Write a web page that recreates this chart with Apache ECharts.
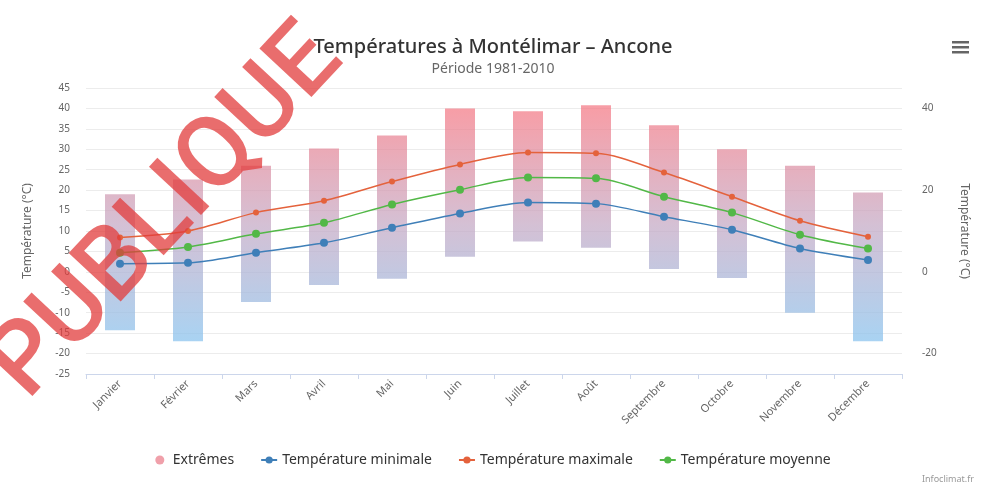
<!DOCTYPE html>
<html>
<head>
<meta charset="utf-8">
<script src="https://cdn.jsdelivr.net/npm/echarts@6/dist/echarts.min.js"></script>
<style>
  html, body { margin: 0; padding: 0; background: #fff; }
  #chart { width: 986px; height: 489px; }
</style>
</head>
<body>
<div id="chart"></div>
<script>
const months = ["Janvier", "Février", "Mars", "Avril", "Mai", "Juin", "Juillet", "Août", "Septembre", "Octobre", "Novembre", "Décembre"];
const extMin = [-14.3, -17, -7.4, -3.2, -1.7, 3.7, 7.4, 5.9, 0.7, -1.5, -10, -17];
const extMax = [19, 22.6, 26, 30.2, 33.4, 40, 39.3, 40.8, 35.9, 30, 26, 19.4];
const tMin = [2, 2.2, 4.7, 7.1, 10.8, 14.3, 17, 16.7, 13.5, 10.3, 5.7, 2.9];
const tMax = [8.4, 10, 14.5, 17.4, 22.1, 26.3, 29.2, 29, 24.3, 18.4, 12.5, 8.6];
const tMoy = [4.7, 6.1, 9.3, 12, 16.5, 20.1, 23.1, 22.9, 18.4, 14.5, 9.1, 5.7];

const FONT = "'Noto Sans', 'DejaVu Sans', sans-serif";

const chart = echarts.init(document.getElementById("chart"));

// barre min/max, degrade rouge -> bleu selon la temperature
function renderRange(params, api) {
  const i = api.value(0);
  const lo = api.coord([i, api.value(1)]);
  const hi = api.coord([i, api.value(2)]);
  const yTop = api.coord([i, 40])[1];
  const yBot = api.coord([i, -17])[1];
  const w = 30;
  return {
    type: "rect",
    shape: { x: lo[0] - w / 2, y: hi[1], width: w, height: lo[1] - hi[1] },
    style: {
      fill: new echarts.graphic.LinearGradient(0, yTop, 0, yBot, [
        { offset: 0, color: "rgba(244,120,132,0.72)" },
        { offset: 0.5, color: "rgba(196,168,196,0.72)" },
        { offset: 1, color: "rgba(140,196,238,0.75)" }
      ], true)
    }
  };
}

const option = {
  animation: false,
  backgroundColor: "#fff",
  title: {
    text: "Températures à Montélimar – Ancone",
    subtext: "Période 1981-2010",
    left: "center",
    top: 32,
    itemGap: 5,
    textStyle: { fontFamily: FONT, fontSize: 20, fontWeight: 500, color: "#333" },
    subtextStyle: { fontFamily: FONT, fontSize: 14, color: "#666" }
  },
  legend: {
    bottom: 17,
    left: "center",
    itemGap: 26,
    itemWidth: 16,
    itemHeight: 9,
    textStyle: { fontFamily: FONT, fontSize: 14, color: "#333" },
    data: [
      { name: "Extrêmes", icon: "circle" },
      "Température minimale",
      "Température maximale",
      "Température moyenne"
    ]
  },
  grid: { left: 86, right: 84, top: 88, bottom: 115 },
  xAxis: {
    type: "category",
    data: months,
    boundaryGap: true,
    axisLine: { onZero: false, lineStyle: { color: "#ccd6eb" } },
    axisTick: { show: true, lineStyle: { color: "#ccd6eb" } },
    axisLabel: { rotate: 45, fontFamily: FONT, fontSize: 11, color: "#666", margin: 8 }
  },
  yAxis: [
    {
      type: "value",
      min: -25,
      max: 45,
      interval: 5,
      name: "Température (°C)",
      nameLocation: "middle",
      nameGap: 52,
      nameTextStyle: { fontFamily: FONT, fontSize: 12, color: "#666" },
      axisLine: { show: false },
      axisTick: { show: false },
      axisLabel: { fontFamily: FONT, fontSize: 10, color: "#666", margin: 16 },
      splitLine: { lineStyle: { color: "#ececec" } }
    },
    {
      type: "value",
      min: -25,
      max: 45,
      interval: 5,
      position: "right",
      name: "Température (°C)",
      nameLocation: "middle",
      nameRotate: -90,
      nameGap: 56,
      nameTextStyle: { fontFamily: FONT, fontSize: 12, color: "#666" },
      axisLine: { show: false },
      axisTick: { show: false },
      axisLabel: {
        fontFamily: FONT, fontSize: 10, color: "#666", margin: 20,
        formatter: v => (v % 20 === 0 ? String(v) : "")
      },
      splitLine: { show: false }
    }
  ],
  series: [
    {
      name: "Extrêmes",
      type: "custom",
      renderItem: renderRange,
      itemStyle: { color: "#f0a0aa" },
      encode: { x: 0, y: [1, 2] },
      data: months.map((m, i) => [i, extMin[i], extMax[i]]),
      z: 1
    },
    {
      name: "Température minimale",
      type: "line",
      smooth: 0.3,
      data: tMin,
      color: "#3f7fb8",
      symbol: "circle",
      symbolSize: 8,
      lineStyle: { width: 1.5 },
      z: 3
    },
    {
      name: "Température maximale",
      type: "line",
      smooth: 0.3,
      data: tMax,
      color: "#e4623c",
      symbol: "circle",
      symbolSize: 6,
      lineStyle: { width: 1.5 },
      z: 3
    },
    {
      name: "Température moyenne",
      type: "line",
      smooth: 0.3,
      data: tMoy,
      color: "#52b847",
      symbol: "circle",
      symbolSize: 8,
      lineStyle: { width: 1.5 },
      z: 3
    }
  ],
  graphic: [
    // menu
    { type: "rect", left: 952, top: 41, shape: { width: 17, height: 2.5 }, style: { fill: "#666" } },
    { type: "rect", left: 952, top: 46, shape: { width: 17, height: 2.5 }, style: { fill: "#666" } },
    { type: "rect", left: 952, top: 51, shape: { width: 17, height: 2.5 }, style: { fill: "#666" } },
    // credits
    {
      type: "text", right: 12, bottom: 5,
      style: { text: "Infoclimat.fr", fontFamily: FONT, fontSize: 9, fill: "#999" }
    },
    // filigrane
    {
      type: "text",
      x: 168, y: 214,
      rotation: 47 * Math.PI / 180,
      z: 100,
      style: {
        text: "PUBLIQUE",
        fontFamily: "Roboto, 'Liberation Sans', sans-serif",
        fontSize: 100,
        fontWeight: 500,
        fill: "rgba(226,60,60,0.75)",
        align: "center",
        verticalAlign: "middle"
      }
    }
  ]
};

chart.setOption(option);
</script>
</body>
</html>
